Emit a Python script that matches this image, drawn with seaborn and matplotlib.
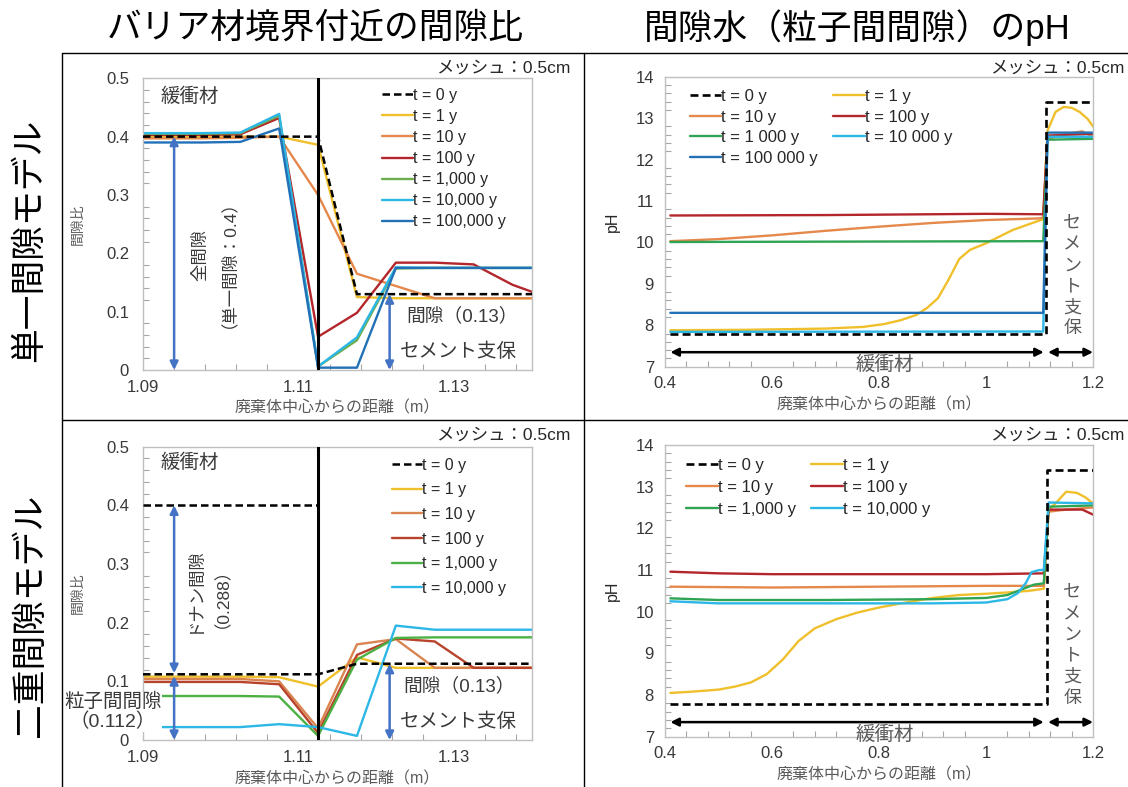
import numpy as np
import pandas as pd
import matplotlib
matplotlib.use("Agg")
import matplotlib.pyplot as plt
from matplotlib.lines import Line2D
from matplotlib.ticker import FixedLocator, FuncFormatter
import seaborn as sns

# ---------------------------------------------------------------- data
# porosity near the barrier boundary (single / dual porosity models)
x_gap = [1.09, 1.0925, 1.0975, 1.1025, 1.1075, 1.1125, 1.1175, 1.1225, 1.1275, 1.1325, 1.1375, 1.14]

single_t0 = [0.400, 0.400, 0.400, 0.400, 0.400, 0.400, 0.130, 0.130, 0.130, 0.130, 0.130, 0.130]
single_t1 = [0.400, 0.400, 0.400, 0.400, 0.400, 0.386, 0.125, 0.123, 0.123, 0.123, 0.123, 0.123]
single_t10 = [0.397, 0.397, 0.397, 0.398, 0.400, 0.300, 0.165, 0.144, 0.123, 0.123, 0.123, 0.123]
single_t100 = [0.403, 0.403, 0.403, 0.404, 0.432, 0.057, 0.098, 0.184, 0.184, 0.181, 0.146, 0.134]
single_t1000 = [0.405, 0.405, 0.405, 0.406, 0.436, 0.006, 0.051, 0.174, 0.175, 0.175, 0.175, 0.175]
single_t10000 = [0.406, 0.406, 0.406, 0.407, 0.439, 0.006, 0.056, 0.176, 0.175, 0.175, 0.175, 0.175]
single_t100000 = [0.390, 0.390, 0.390, 0.391, 0.414, 0.004, 0.004, 0.175, 0.175, 0.175, 0.175, 0.175]

dual_total_x = [1.09, 1.1125]
dual_total_y = [0.40, 0.40]
dual_t0 = [0.112, 0.112, 0.112, 0.112, 0.112, 0.112, 0.130, 0.130, 0.130, 0.130, 0.130, 0.130]
dual_t1 = [0.108, 0.108, 0.108, 0.108, 0.107, 0.091, 0.141, 0.123, 0.123, 0.123, 0.123, 0.123]
dual_t10 = [0.104, 0.104, 0.104, 0.104, 0.100, 0.020, 0.163, 0.172, 0.123, 0.123, 0.123, 0.123]
dual_t100 = [0.099, 0.099, 0.099, 0.099, 0.095, 0.012, 0.145, 0.173, 0.168, 0.123, 0.123, 0.123]
dual_t1000 = [0.075, 0.075, 0.075, 0.075, 0.074, 0.007, 0.137, 0.174, 0.175, 0.175, 0.175, 0.175]
dual_t10000 = [0.022, 0.022, 0.022, 0.022, 0.027, 0.022, 0.007, 0.195, 0.188, 0.188, 0.188, 0.188]

interface_x = 1.1125

# pore-water pH, single porosity model
ph1_t0_x = [0.41, 1.112, 1.112, 1.2]
ph1_t0_y = [7.78, 7.78, 13.4, 13.4]
ph1_t1_x = [0.41, 0.55, 0.70, 0.77, 0.81, 0.84, 0.87, 0.89, 0.91, 0.93, 0.95, 0.97, 1.00, 1.05,
            1.10, 1.107, 1.115, 1.13, 1.145, 1.16, 1.175, 1.19, 1.20]
ph1_t1_y = [7.88, 7.89, 7.92, 7.96, 8.03, 8.12, 8.25, 8.42, 8.65, 9.10, 9.60, 9.82, 9.98, 10.30,
            10.53, 10.56, 12.70, 13.15, 13.27, 13.25, 13.15, 12.98, 12.80]
ph1_t10_x = [0.41, 0.5, 0.6, 0.7, 0.8, 0.9, 1.0, 1.1, 1.107, 1.115, 1.15, 1.18, 1.2]
ph1_t10_y = [10.03, 10.08, 10.17, 10.28, 10.38, 10.47, 10.54, 10.58, 10.60, 12.50, 12.62, 12.68, 12.55]
ph1_t100_x = [0.41, 0.7, 1.0, 1.107, 1.115, 1.2]
ph1_t100_y = [10.65, 10.66, 10.69, 10.68, 12.58, 12.62]
ph1_t1000_x = [0.41, 1.107, 1.115, 1.2]
ph1_t1000_y = [10.01, 10.03, 12.48, 12.50]
ph1_t10000_x = [0.41, 1.107, 1.115, 1.2]
ph1_t10000_y = [7.84, 7.85, 12.55, 12.55]
ph1_t100000_x = [0.41, 1.107, 1.115, 1.2]
ph1_t100000_y = [8.30, 8.30, 12.65, 12.65]

# pore-water pH, dual porosity model
ph2_t0_x = [0.41, 1.114, 1.114, 1.2]
ph2_t0_y = [7.78, 7.78, 13.4, 13.4]
ph2_t1_x = [0.41, 0.45, 0.50, 0.53, 0.56, 0.59, 0.62, 0.65, 0.68, 0.72, 0.76, 0.80, 0.85, 0.90,
            0.95, 1.00, 1.05, 1.08, 1.108, 1.117, 1.13, 1.15, 1.17, 1.185, 1.20]
ph2_t1_y = [8.05, 8.08, 8.13, 8.20, 8.30, 8.50, 8.85, 9.30, 9.60, 9.82, 9.98, 10.10, 10.22, 10.33,
            10.40, 10.43, 10.47, 10.50, 10.55, 12.45, 12.60, 12.88, 12.85, 12.75, 12.60]
ph2_t10_x = [0.41, 0.6, 0.8, 1.0, 1.108, 1.117, 1.15, 1.2]
ph2_t10_y = [10.60, 10.58, 10.60, 10.62, 10.62, 12.40, 12.45, 12.50]
ph2_t100_x = [0.41, 0.5, 0.6, 0.8, 1.0, 1.108, 1.117, 1.15, 1.18, 1.2]
ph2_t100_y = [10.96, 10.92, 10.90, 10.90, 10.90, 10.92, 12.45, 12.45, 12.45, 12.33]
ph2_t1000_x = [0.41, 0.5, 0.7, 0.9, 1.0, 1.04, 1.07, 1.09, 1.108, 1.117, 1.2]
ph2_t1000_y = [10.32, 10.28, 10.28, 10.30, 10.33, 10.40, 10.55, 10.65, 10.68, 12.52, 12.55]
ph2_t10000_x = [0.41, 0.5, 0.7, 0.9, 1.0, 1.04, 1.06, 1.075, 1.085, 1.1, 1.108, 1.117, 1.2]
ph2_t10000_y = [10.25, 10.20, 10.20, 10.20, 10.22, 10.30, 10.45, 10.70, 10.95, 11.00, 11.00, 12.62, 12.60]

buffer_span = [0.41, 1.108]
cement_span = [1.116, 1.2]

labels_comma = ["t = 0 y", "t = 1 y", "t = 10 y", "t = 100 y", "t = 1,000 y", "t = 10,000 y", "t = 100,000 y"]
labels_space = ["t = 0 y", "t = 1 y", "t = 10 y", "t = 100 y", "t = 1 000 y", "t = 10 000 y", "t = 100 000 y"]

col_yellow = "#F0C02C"
col_orange = "#E5884C"
col_red = "#B3262B"
col_green_a = "#6DAE4C"
col_green_b = "#2FA455"
col_cyan = "#2DB7E6"
col_blue = "#2271B6"
col_arrow = "#4472C4"
text_dark = "#3A3A3A"
text_gray = "#5A5A5A"

# ---------------------------------------------------------------- style
sns.set_theme(style="white")
plt.rcParams["font.family"] = ["Liberation Sans", "Noto Sans CJK JP", "DejaVu Sans"]

W, H = 1128, 787
fig = plt.figure(figsize=(W / 100, H / 100), dpi=100)


def px_axes(left, top, right, bottom):
    return fig.add_axes([left / W, 1 - bottom / H, (right - left) / W, (bottom - top) / H])


ax_tl = px_axes(143, 78.3, 532, 370)
ax_tr = px_axes(665, 76.7, 1093, 366.7)
ax_bl = px_axes(143, 446.7, 532, 740)
ax_br = px_axes(665, 445, 1093, 736.7)


def draw(ax, x, y, color, label=None, dashed=False, lw=1.7, z=2):
    df = pd.DataFrame({"x": x, "y": y})
    kw = dict(data=df, x="x", y="y", ax=ax, color=color, linewidth=lw, sort=False,
              estimator=None, errorbar=None, legend=False, zorder=z)
    if label is not None:
        kw["label"] = label
    if dashed:
        kw["linestyle"] = (0, (3, 1.6))
    sns.lineplot(**kw)


fmt = FuncFormatter(lambda v, _: f"{v:g}")


def style_axes(ax, xlim, ylim, xmajor, xminor, ymajor, yminor, ypad):
    ax.set_xlim(*xlim)
    ax.set_ylim(*ylim)
    ax.xaxis.set_major_locator(FixedLocator(xmajor))
    ax.xaxis.set_minor_locator(FixedLocator(xminor))
    ax.yaxis.set_major_locator(FixedLocator(ymajor))
    ax.yaxis.set_minor_locator(FixedLocator(yminor))
    ax.xaxis.set_major_formatter(fmt)
    ax.yaxis.set_major_formatter(fmt)
    ax.tick_params(which="major", length=0, labelsize=12, labelcolor="#383838")
    ax.tick_params(axis="y", which="major", pad=ypad)
    ax.tick_params(axis="x", which="major", pad=7)
    ax.tick_params(which="minor", direction="in", length=4, width=0.8, color="#A6A6A6",
                   bottom=True, left=True)
    for s in ax.spines.values():
        s.set_color("#BFBFBF")
        s.set_linewidth(1.0)
    ax.set_xlabel("廃棄体中心からの距離（m）", fontsize=11.5, color=text_gray)
    ax.xaxis.set_label_coords(0.5, -0.105)


# ---------------------------------------------------------------- porosity panels
gap_xmaj = [1.09, 1.11, 1.13]
gap_xmin = [1.09 + 0.004 * i for i in range(13)]
gap_ymaj = [0, 0.1, 0.2, 0.3, 0.4, 0.5]
gap_ymin = [0.02 * i for i in range(26)]

for ax in (ax_tl, ax_bl):
    style_axes(ax, (1.09, 1.14), (0, 0.5), gap_xmaj, gap_xmin, gap_ymaj, gap_ymin, 10)
    ax.set_ylabel("間隙比", fontsize=10, color=text_gray)
    ax.yaxis.set_label_coords(-0.15, 0.5)
    ax.axvline(interface_x, color="black", linewidth=2.2, zorder=5)

# single porosity
single = [single_t0, single_t1, single_t10, single_t100, single_t1000, single_t10000, single_t100000]
single_cols = ["black", col_yellow, col_orange, col_red, col_green_a, col_cyan, col_blue]
for i in range(1, 7):
    draw(ax_tl, x_gap, single[i], single_cols[i], labels_comma[i])
draw(ax_tl, x_gap, single_t0, "black", labels_comma[0], dashed=True, lw=1.8, z=4)
h, l = ax_tl.get_legend_handles_labels()
order = [l.index(s) for s in labels_comma]
ax_tl.legend([h[k] for k in order], [l[k] for k in order], loc="upper left",
             bbox_to_anchor=(0.615, 0.967), frameon=False, fontsize=11.5, handlelength=1.9,
             handletextpad=0.0, labelspacing=0.38, borderpad=0, borderaxespad=0,
             labelcolor="#262626")

# dual porosity
dual = [dual_t0, dual_t1, dual_t10, dual_t100, dual_t1000, dual_t10000]
dual_cols = ["black", col_yellow, "#DA8450", "#B8432C", "#4CB043", col_cyan]
for i in range(1, 6):
    draw(ax_bl, x_gap, dual[i], dual_cols[i], labels_comma[i])
draw(ax_bl, x_gap, dual_t0, "black", labels_comma[0], dashed=True, lw=1.8, z=4)
draw(ax_bl, dual_total_x, dual_total_y, "black", None, dashed=True, lw=1.8, z=4)
h, l = ax_bl.get_legend_handles_labels()
order = [l.index(s) for s in labels_comma[:6]]
ax_bl.legend([h[k] for k in order], [l[k] for k in order], loc="upper left",
             bbox_to_anchor=(0.64, 0.962), frameon=False, fontsize=11.5, handlelength=1.9,
             handletextpad=0.0, labelspacing=0.6, borderpad=0, borderaxespad=0,
             labelcolor="#262626")


def double_arrow(ax, x, y0, y1, color=col_arrow, lw=1.8, ms=12):
    ax.annotate("", xy=(x, y1), xytext=(x, y0),
                arrowprops=dict(arrowstyle="<|-|>", color=color, lw=lw, mutation_scale=ms,
                                shrinkA=0, shrinkB=0), zorder=6)


# annotations, single porosity
ax_tl.text(1.0922, 0.4685, "緩衝材", fontsize=14, color=text_dark, ha="left", va="center")
double_arrow(ax_tl, 1.094, 0.0, 0.4)
ax_tl.text(1.0986, 0.197, "全間隙\n（単一間隙：0.4）", rotation=90, fontsize=12.5, color=text_dark,
           ha="center", va="center", multialignment="center", linespacing=1.2)
double_arrow(ax_tl, 1.1217, 0.0, 0.13)
ax_tl.text(1.1239, 0.0914, "間隙（0.13）", fontsize=13.5, color=text_dark, ha="left", va="center")
ax_tl.text(1.1230, 0.0314, "セメント支保", fontsize=14, color=text_dark, ha="left", va="center")

# annotations, dual porosity
ax_bl.text(1.0922, 0.472, "緩衝材", fontsize=14, color=text_dark, ha="left", va="center")
double_arrow(ax_bl, 1.094, 0.114, 0.4)
double_arrow(ax_bl, 1.094, 0.0, 0.109)
ax_bl.text(1.0978, 0.257, "ドナン間隙\n（0.288）", rotation=90, fontsize=12.5, color=text_dark,
           ha="center", va="center", multialignment="center", linespacing=1.2)
ax_bl.text(1.0861, 0.048, "粒子間間隙\n（0.112）", fontsize=14, color=text_dark, ha="center",
           va="center", multialignment="center", linespacing=1.1, clip_on=False, zorder=7,
           bbox=dict(facecolor="white", edgecolor="none", pad=0.5))
double_arrow(ax_bl, 1.1217, 0.0, 0.13)
ax_bl.text(1.1235, 0.0909, "間隙（0.13）", fontsize=13.5, color=text_dark, ha="left", va="center")
ax_bl.text(1.1230, 0.0312, "セメント支保", fontsize=14, color=text_dark, ha="left", va="center")

# ---------------------------------------------------------------- pH panels
ph_xmaj = [0.4, 0.6, 0.8, 1.0, 1.2]
ph_xmin = [0.4 + 0.04 * i for i in range(21)]
ph_ymaj = [7, 8, 9, 10, 11, 12, 13, 14]
ph_ymin = [7 + 0.2 * i for i in range(36)]

for ax in (ax_tr, ax_br):
    style_axes(ax, (0.4, 1.2), (7, 14), ph_xmaj, ph_xmin, ph_ymaj, ph_ymin, 8)
    ax.set_ylabel("pH", fontsize=11.5, color="#262626")
    ax.yaxis.set_label_coords(-0.105, 0.5)
    for span in (buffer_span, cement_span):
        ax.annotate("", xy=(span[1], 7.35), xytext=(span[0], 7.35),
                    arrowprops=dict(arrowstyle="<|-|>", color="black", lw=1.8,
                                    mutation_scale=12, shrinkA=0, shrinkB=0), zorder=6)
    ax.text(0.81, 7.04, "緩衝材", fontsize=14, color=text_gray, ha="center", va="center",
            clip_on=False, zorder=7)
    ax.text(1.161, 9.18, "\n".join("セメント支保"), fontsize=13, color=text_gray, ha="center",
            va="center", linespacing=1.3)

ph1 = [(ph1_t1_x, ph1_t1_y), (ph1_t10_x, ph1_t10_y), (ph1_t100_x, ph1_t100_y),
       (ph1_t1000_x, ph1_t1000_y), (ph1_t10000_x, ph1_t10000_y), (ph1_t100000_x, ph1_t100000_y)]
ph1_cols = [col_yellow, col_orange, col_red, col_green_b, col_cyan, col_blue]
for i, (xs, ys) in enumerate(ph1):
    draw(ax_tr, xs, ys, ph1_cols[i], labels_space[i + 1])
draw(ax_tr, ph1_t0_x, ph1_t0_y, "black", labels_space[0], dashed=True, lw=1.9, z=4)
h, l = ax_tr.get_legend_handles_labels()
seq = [labels_space[k] for k in (0, 2, 4, 6, 1, 3, 5)]
order = [l.index(s) for s in seq]
ax_tr.legend([h[k] for k in order], [l[k] for k in order], loc="upper left", ncol=2,
             bbox_to_anchor=(0.058, 0.957), frameon=False, fontsize=12, handlelength=1.9,
             handletextpad=0.0, labelspacing=0.33, columnspacing=0.9, borderpad=0,
             borderaxespad=0, labelcolor="#262626")

ph2 = [(ph2_t1_x, ph2_t1_y), (ph2_t10_x, ph2_t10_y), (ph2_t100_x, ph2_t100_y),
       (ph2_t1000_x, ph2_t1000_y), (ph2_t10000_x, ph2_t10000_y)]
ph2_cols = [col_yellow, col_orange, col_red, col_green_b, col_cyan]
for i, (xs, ys) in enumerate(ph2):
    draw(ax_br, xs, ys, ph2_cols[i], labels_comma[i + 1])
draw(ax_br, ph2_t0_x, ph2_t0_y, "black", labels_comma[0], dashed=True, lw=1.9, z=4)
h, l = ax_br.get_legend_handles_labels()
seq = [labels_comma[k] for k in (0, 2, 4, 1, 3, 5)]
order = [l.index(s) for s in seq]
ax_br.legend([h[k] for k in order], [l[k] for k in order], loc="upper left", ncol=2,
             bbox_to_anchor=(0.05, 0.957), frameon=False, fontsize=12, handlelength=1.9,
             handletextpad=0.0, labelspacing=0.43, columnspacing=0.9, borderpad=0,
             borderaxespad=0, labelcolor="#262626")

# ---------------------------------------------------------------- frame, titles, mesh notes
def fig_line(x0, y0, x1, y1):
    fig.add_artist(Line2D([x0 / W, x1 / W], [1 - y0 / H, 1 - y1 / H], color="black",
                          linewidth=1.0, transform=fig.transFigure))


fig_line(62, 53, W, 53)
fig_line(62, 420, W, 420)
fig_line(62, 53, 62, H)
fig_line(584, 53, 584, H)

fig.text(315 / W, 1 - 28 / H, "バリア材境界付近の間隙比", fontsize=25, ha="center", va="center",
         color="black")
fig.text(857 / W, 1 - 28 / H, "間隙水（粒子間間隙）のpH", fontsize=25, ha="center", va="center",
         color="black")
fig.text(30 / W, 1 - 240 / H, "単一間隙モデル", fontsize=25, rotation=90, ha="center",
         va="center", color="black")
fig.text(30 / W, 1 - 615 / H, "二重間隙モデル", fontsize=25, rotation=90, ha="center",
         va="center", color="black")

for xr, yc in ((570, 68), (1124, 68), (570, 435), (1124, 435)):
    fig.text(xr / W, 1 - yc / H, "メッシュ：0.5cm", fontsize=12.5, ha="right", va="center",
             color="#262626")

fig.savefig("out.png", dpi=100)
